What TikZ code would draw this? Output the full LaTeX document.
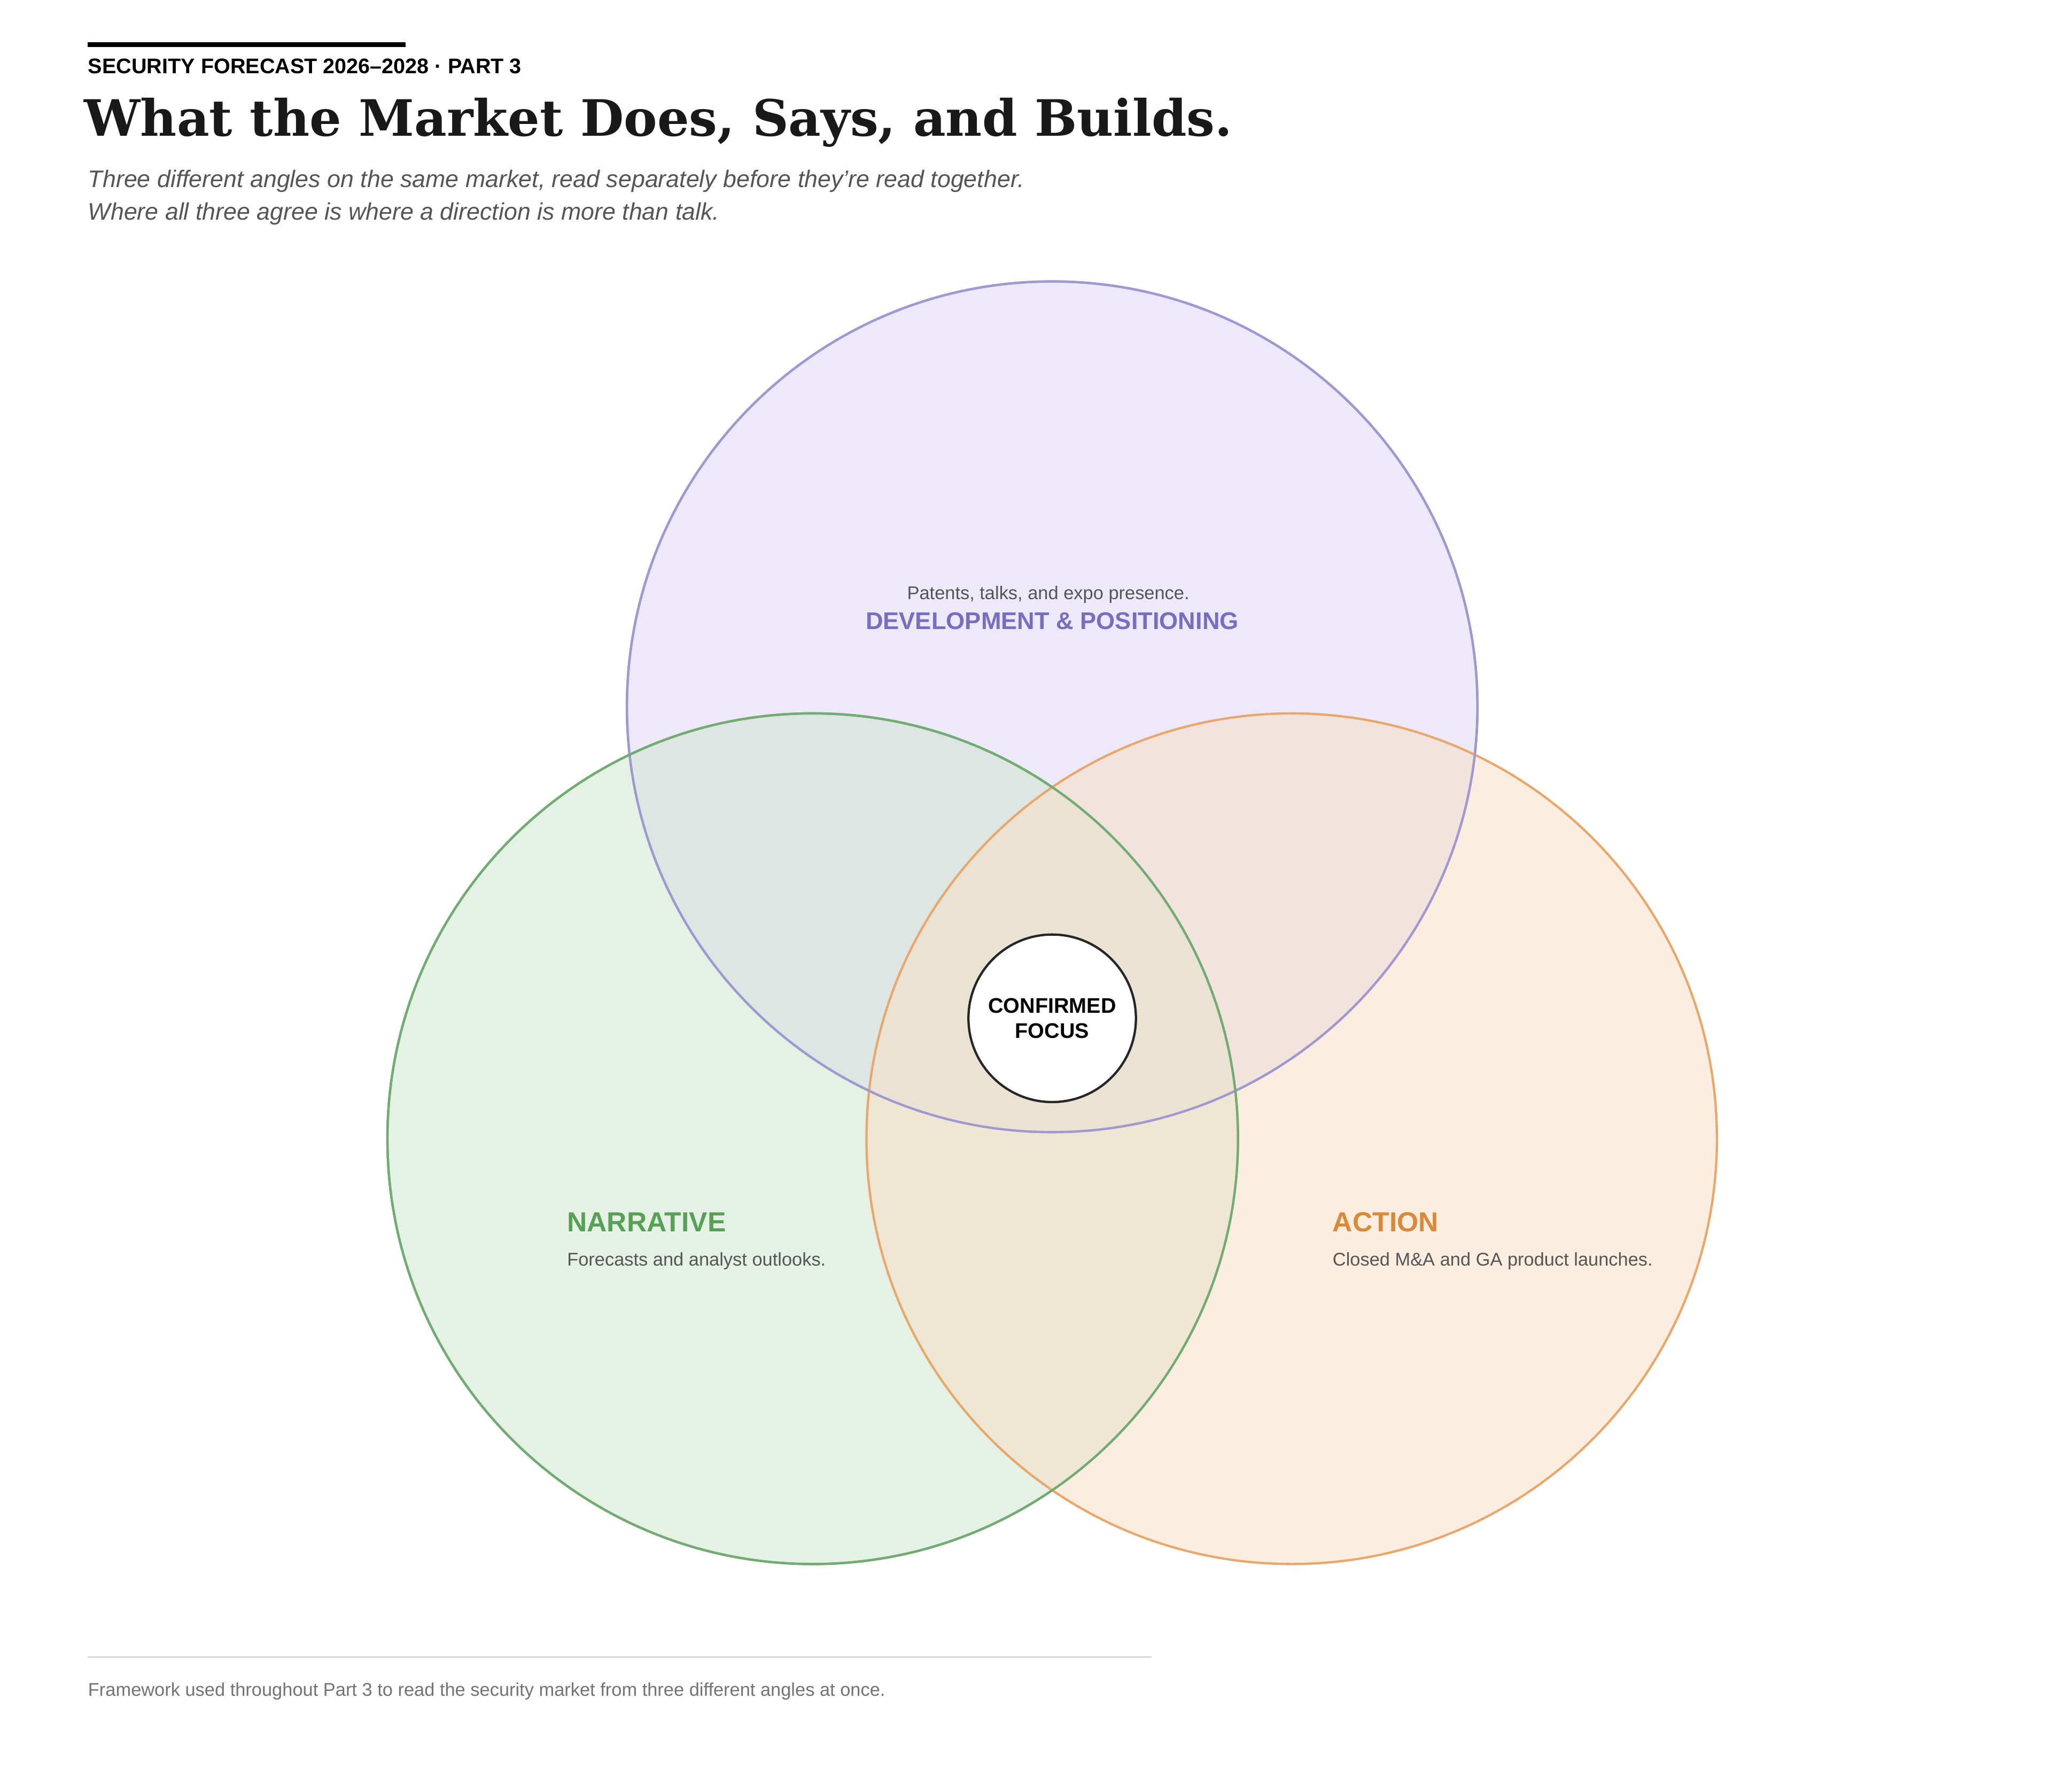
\documentclass[tikz,border=0pt]{standalone}
\usepackage{fontspec}
\setmainfont{DejaVu Serif}
\setsansfont{Liberation Sans}
\usetikzlibrary{positioning}
\definecolor{devline}{HTML}{A098D0}
\definecolor{devfill}{HTML}{DCD5F5}
\definecolor{devtext}{HTML}{7A6CC0}
\definecolor{narline}{HTML}{72AC72}
\definecolor{narfill}{HTML}{CFE4CC}
\definecolor{nartext}{HTML}{58A058}
\definecolor{actline}{HTML}{E8A86C}
\definecolor{actfill}{HTML}{F8DFC5}
\definecolor{acttext}{HTML}{D9893A}
\definecolor{inktext}{HTML}{555555}
\tikzset{
    set/.style={circle,line width=1pt,minimum size=13cm,inner sep=0pt,fill opacity=0.5,text opacity=1},
    setname/.style={font=\sffamily\bfseries\fontsize{10.5}{12}\selectfont,inner sep=0pt},
    setnote/.style={font=\sffamily\fontsize{8}{10}\selectfont,text=inktext,inner sep=0pt},
    lede/.style={anchor=base west,inner sep=0pt,font=\sffamily\itshape\fontsize{10.4}{12.6}\selectfont,text=inktext}
}
\begin{document}
\begin{tikzpicture}[x=0.02cm,y=-0.02cm]
    \useasboundingbox[fill=white] (0,0) rectangle (1568,1369);

    % header
    \draw[line width=2.2pt] (67,34) -- (310,34);
    \node[anchor=base west,inner sep=0pt,font=\sffamily\bfseries\fontsize{9.2}{10}\selectfont] (kicker) at (67,56) {SECURITY FORECAST 2026–2028 · PART 3};
    \node[anchor=base west,inner sep=0pt,font=\bfseries\fontsize{21.8}{26}\selectfont,text=black!90] (title) at (64,104) {What the Market Does, Says, and Builds.};
    \node[lede] (lede1) at (67,143) {Three different angles on the same market, read separately before they're read together.};
    \node[lede] (lede2) at (67,168) {Where all three agree is where a direction is more than talk.};

    % the three sets
    \node[set,draw=devline,fill=devfill] (dev) at (804,540) {};
    \node[set,draw=narline,fill=narfill] (nar) at (621,870) {};
    \node[set,draw=actline,fill=actfill] (act) at (987,870) {};
    \draw[devline,line width=1pt] (804,540) circle (325);
    \draw[narline,line width=1pt] (621,870) circle (325);

    % centre
    \node[circle,draw=black!85,line width=1pt,fill=white,minimum size=2.56cm,align=center,
          font=\sffamily\bfseries\fontsize{9.2}{11}\selectfont] (focus) at (804,778) {CONFIRMED\\FOCUS};

    % labels
    \node[setnote,anchor=base] (devnote) at (801,458) {Patents, talks, and expo presence.};
    \node[setname,text=devtext,anchor=base] (devname) at (804,481) {DEVELOPMENT \& POSITIONING};
    \node[setname,text=nartext,anchor=base west,font=\sffamily\bfseries\fontsize{12}{14}\selectfont] (narname) at (433,941) {NARRATIVE};
    \node[setnote,anchor=base west] (narnote) at (433,967) {Forecasts and analyst outlooks.};
    \node[setname,text=acttext,anchor=base west,font=\sffamily\bfseries\fontsize{12}{14}\selectfont] (actname) at (1018,941) {ACTION};
    \node[setnote,anchor=base west] (actnote) at (1018,967) {Closed M\&A and GA product launches.};

    % footer
    \draw[black!15,line width=0.8pt] (67,1266) -- (880,1266);
    \node[setnote,anchor=base west,text=black!55] (foot) at (67,1296) {Framework used throughout Part 3 to read the security market from three different angles at once.};
\end{tikzpicture}
\end{document}
